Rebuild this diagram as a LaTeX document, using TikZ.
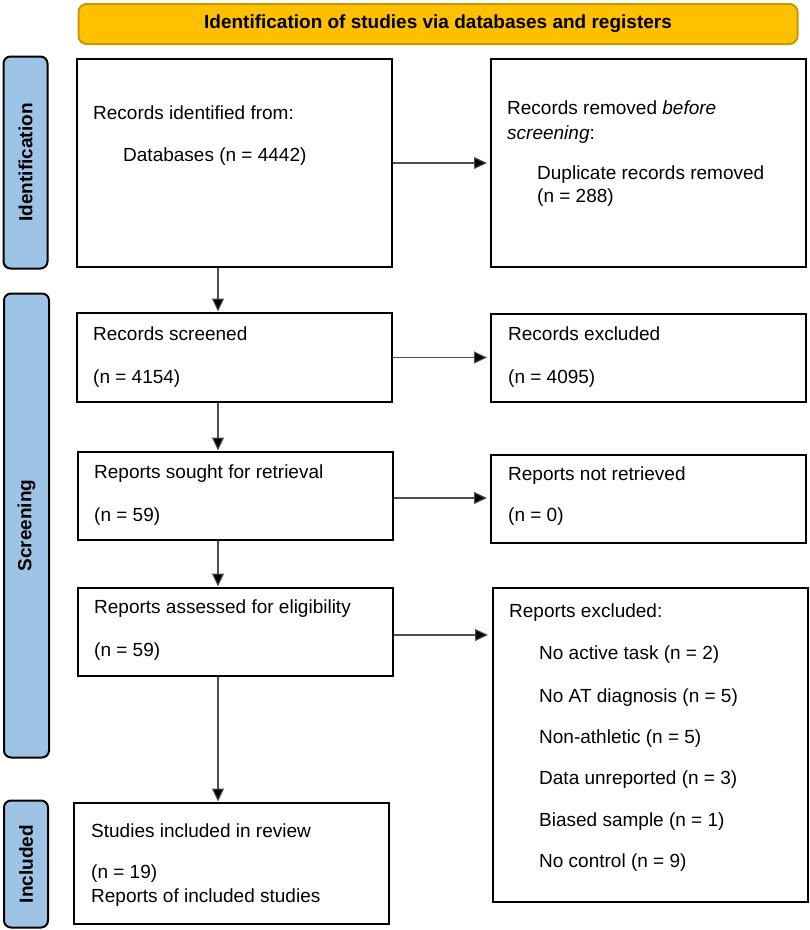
\documentclass[tikz,border=0pt]{standalone}
\usepackage{fontspec}
\setmainfont{Liberation Sans}
\usetikzlibrary{arrows.meta,calc}
\definecolor{bannerfill}{HTML}{FFC000}
\definecolor{bannerdraw}{HTML}{C49A00}
\definecolor{sidefill}{HTML}{9DC3E6}
\definecolor{arrowgray}{HTML}{4D4D4D}
\tikzset{
  box/.style={draw=black, line width=2pt, fill=white, rectangle, inner sep=0pt},
  side/.style={draw=black, line width=2pt, fill=sidefill, rounded corners=7pt, inner sep=0pt},
  sidelabel/.style={rotate=90, font=\fontsize{19}{22}\selectfont\bfseries, inner sep=0pt},
  txt/.style={anchor=base west, inner sep=0pt, font=\fontsize{19}{22}\selectfont},
  arr/.style={draw=arrowgray, line width=1.1pt, -{Triangle[length=13pt,width=12pt,fill=black]}, shorten >=0.5pt},
}
\begin{document}
\begin{tikzpicture}[x=1pt,y=-1pt]
\useasboundingbox (0,0) rectangle (810,930);
% banner
\node[draw=bannerdraw, line width=2pt, fill=bannerfill, rounded corners=8pt,
      minimum width=719pt, minimum height=40pt, inner sep=0pt,
      font=\fontsize{19}{22}\selectfont\bfseries] (banner) at (438,24)
      {Identification of studies via databases and registers};
% side bars
\node[side, minimum width=44pt, minimum height=212pt] (sideId) at (25.5,162.5) {};
\node[sidelabel] (sideIdT) at (sideId.center) {Identification};
\node[side, minimum width=45pt, minimum height=464pt] (sideSc) at (26.5,525.5) {};
\node[sidelabel] (sideScT) at (sideSc.center) {Screening};
\node[side, minimum width=44pt, minimum height=127pt] (sideIn) at (26,864) {};
\node[sidelabel] (sideInT) at (sideIn.center) {Included};
% left column boxes
\node[box, minimum width=315pt, minimum height=208pt] (b1) at (234.5,163) {};
\node[box, minimum width=315pt, minimum height=89pt] (b2) at (234.5,357.5) {};
\node[box, minimum width=315pt, minimum height=88pt] (b3) at (235.5,496) {};
\node[box, minimum width=315pt, minimum height=88pt] (b4) at (235.5,632) {};
\node[box, minimum width=315pt, minimum height=121pt] (b5) at (231.5,863.5) {};
% right column boxes
\node[box, minimum width=315pt, minimum height=208pt] (r1) at (648.5,163) {};
\node[box, minimum width=315pt, minimum height=88pt] (r2) at (648.5,358) {};
\node[box, minimum width=315pt, minimum height=88pt] (r3) at (648.5,499) {};
\node[box, minimum width=315pt, minimum height=314pt] (r4) at (650.5,745) {};
% texts
\node[txt] (t1a) at (93,119) {Records identified from:};
\node[txt] (t1b) at (123,161) {Databases (n = 4442)};
\node[txt] (u1a) at (507,114) {Records removed \textit{before}};
\node[txt] (u1b) at (507,139) {\textit{screening}:};
\node[txt] (u1c) at (537,179) {Duplicate records removed};
\node[txt] (u1d) at (537,202) {(n = 288)};
\node[txt] (t2a) at (93,340) {Records screened};
\node[txt] (t2b) at (93,383) {(n = 4154)};
\node[txt] (u2a) at (508,340) {Records excluded};
\node[txt] (u2b) at (508,383) {(n = 4095)};
\node[txt] (t3a) at (94,478) {Reports sought for retrieval};
\node[txt] (t3b) at (94,521) {(n = 59)};
\node[txt] (u3a) at (508,480) {Reports not retrieved};
\node[txt] (u3b) at (508,521) {(n = 0)};
\node[txt] (t4a) at (94,613) {Reports assessed for eligibility};
\node[txt] (t4b) at (94,656) {(n = 59)};
\node[txt] (u4a) at (509,617) {Reports excluded:};
\node[txt] (u4b) at (539,659) {No active task (n = 2)};
\node[txt] (u4c) at (539,702) {No AT diagnosis (n = 5)};
\node[txt] (u4d) at (539,743) {Non-athletic (n = 5)};
\node[txt] (u4e) at (539,784) {Data unreported (n = 3)};
\node[txt] (u4f) at (539,826) {Biased sample (n = 1)};
\node[txt] (u4g) at (539,867) {No control (n = 9)};
\node[txt] (t5a) at (91,837) {Studies included in review};
\node[txt] (t5b) at (91,878) {(n = 19)};
\node[txt] (t5c) at (91,902) {Reports of included studies};
% connectors
\coordinate (vx) at (218,0);
\draw[arr, shorten >=3pt] (b1.east) -- (r1.west);
\draw[arr, shorten >=3pt] (b2.east) -- (b2.east -| r2.west);
\draw[arr, shorten >=3pt] ($(b3.east)+(0,2)$) -- ($(b3.east -| r3.west)+(0,2)$);
\draw[arr, shorten >=4pt] ($(b4.east)+(0,3)$) -- ($(b4.east -| r4.west)+(0,3)$);
\draw[arr] (b1.south -| vx) -- (b2.north -| vx);
\draw[arr] (b2.south -| vx) -- (b3.north -| vx);
\draw[arr] (b3.south -| vx) -- (b4.north -| vx);
\draw[arr] (b4.south -| vx) -- (b5.north -| vx);
\end{tikzpicture}
\end{document}
